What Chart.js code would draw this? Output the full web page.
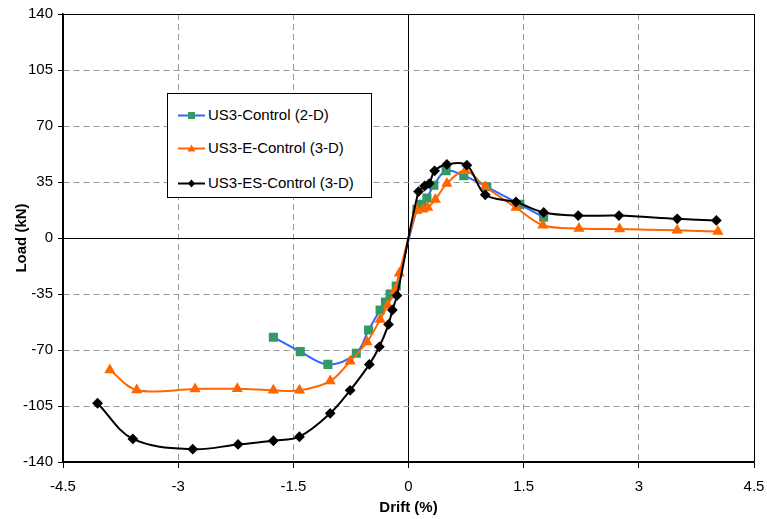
<!DOCTYPE html>
<html>
<head>
<meta charset="utf-8">
<script src="https://cdn.jsdelivr.net/npm/chart.js@4.4.0/dist/chart.umd.min.js"></script>
<style>
  body { margin: 0; background: #fff; }
  #wrap { position: relative; width: 767px; height: 519px; }
  #legend {
    position: absolute; left: 167px; top: 93px; width: 203px; height: 103px;
    border: 1px solid #000; background: #fff;
    font-family: "Liberation Sans", Arial, sans-serif; font-size: 15px; color: #000;
  }
  #legend .item { position: absolute; left: 10px; height: 18px; line-height: 18px; white-space: nowrap; }
  #legend svg { vertical-align: middle; margin-right: 3px; position: relative; top: -1px; }
</style>
</head>
<body>
<div id="wrap">
  <canvas id="chart" width="767" height="519"></canvas>
  <div id="legend"></div>
</div>
<script>
// US3-Control (2-D)
var drift2D = [-1.76, -1.41, -1.05, -0.68, -0.52, -0.37, -0.30, -0.24, -0.16,
               0.11, 0.17, 0.24, 0.33, 0.49, 0.72, 1.02, 1.45, 1.76];
var load2D  = [-62, -71, -79, -72, -57.5, -45, -40, -35, -30,
               18, 21, 25, 33, 42, 39, 32, 21, 13];

// US3-E-Control (3-D)
var driftE = [-3.89, -3.54, -2.78, -2.23, -1.76, -1.42, -1.02, -0.76, -0.54, -0.37, -0.27, -0.18, -0.12,
              0.11, 0.19, 0.25, 0.35, 0.50, 0.74, 1.0, 1.40, 1.75, 2.22, 2.75, 3.5, 4.03];
var loadE  = [-82.5, -95, -94.4, -94.2, -95.2, -95.2, -89.4, -77, -65, -51, -42, -33, -22,
              17.5, 18, 19, 24, 34, 42, 32, 19, 8, 6, 5.6, 4.8, 4];

// US3-ES-Control (3-D)
var driftES = [-4.05, -3.59, -2.81, -2.22, -1.76, -1.42, -1.02, -0.76, -0.51, -0.38, -0.26, -0.21, -0.15,
               0.13, 0.21, 0.27, 0.34, 0.50, 0.76, 1.0, 1.40, 1.76, 2.21, 2.74, 3.50, 4.01];
var loadES  = [-103.3, -125.6, -132, -129, -126.7, -124.2, -109.6, -95.2, -79, -68, -54, -45, -36,
               29, 32.5, 34, 42, 46, 45.5, 27, 22.5, 16, 14, 14, 12, 11];

var xTicks = [-4.5, -3, -1.5, 0, 1.5, 3, 4.5];
var yTicks = [-140, -105, -70, -35, 0, 35, 70, 105, 140];

var seriesNames = ["US3-Control (2-D)", "US3-E-Control (3-D)", "US3-ES-Control (3-D)"];

function toPoints(xs, ys) {
    var pts = [];
    for (var i = 0; i < xs.length; i++) {
        pts.push({x: xs[i], y: ys[i]});
    }
    return pts;
}

var FONT = "'Liberation Sans', Arial, sans-serif";

// edge and zero lines solid black, others grey dashed
function isSolid(ctx) {
    var v = ctx.tick ? ctx.tick.value : null;
    return v === 0 || v === 140 || v === 4.5 || v === -140 || v === -4.5;
}
function gridColor(ctx) { return isSolid(ctx) ? '#000' : '#999'; }
function gridDash(ctx) { return isSolid(ctx) ? [] : [6, 4]; }

var chartEl = document.getElementById("chart");
var loadChart = new Chart(chartEl, {
    type: "scatter",
    data: {
        datasets: [
            {
                label: seriesNames[0],
                data: toPoints(drift2D, load2D),
                showLine: true,
                borderColor: '#3366ff',
                borderWidth: 2,
                backgroundColor: '#339966',
                pointBackgroundColor: '#339966',
                pointBorderColor: '#339966',
                pointStyle: 'rect',
                pointRadius: 5,
                tension: 0.35,
                order: 3
            },
            {
                label: seriesNames[1],
                data: toPoints(driftE, loadE),
                showLine: true,
                borderColor: '#ff6600',
                borderWidth: 2,
                backgroundColor: '#ff6600',
                pointBackgroundColor: '#ff6600',
                pointBorderColor: '#ff6600',
                pointStyle: 'triangle',
                pointRadius: 4.5,
                tension: 0.35,
                order: 2
            },
            {
                label: seriesNames[2],
                data: toPoints(driftES, loadES),
                showLine: true,
                borderColor: '#000',
                borderWidth: 2,
                backgroundColor: '#000',
                pointBackgroundColor: '#000',
                pointBorderColor: '#000',
                pointStyle: 'rectRot',
                pointRadius: 4,
                tension: 0.35,
                order: 1
            }
        ]
    },
    options: {
        responsive: false,
        animation: false,
        layout: { padding: { top: 14, right: 13, left: 0, bottom: 0 } },
        plugins: {
            legend: { display: false },
            tooltip: { enabled: false }
        },
        scales: {
            x: {
                type: 'linear',
                min: -4.5,
                max: 4.5,
                afterBuildTicks: function (scale) {
                    scale.ticks = xTicks.map(function (v) { return {value: v}; });
                },
                afterFit: function (scale) {
                    scale.height = 57;
                    scale.paddingLeft = 0;
                    scale.paddingRight = 0;
                },
                ticks: {
                    color: '#000',
                    font: { family: FONT, size: 15 },
                    padding: 10,
                    maxRotation: 0,
                    callback: function (v) { return String(v); }
                },
                grid: { color: gridColor, lineWidth: 1, tickLength: 6, tickColor: '#000' },
                border: { display: true, color: '#000', width: 1.5, dash: gridDash },
                title: {
                    display: true,
                    text: 'Drift (%)',
                    color: '#000',
                    font: { family: FONT, size: 15, weight: 'bold' },
                    padding: { top: 0, bottom: 2 }
                }
            },
            y: {
                type: 'linear',
                min: -140,
                max: 140,
                afterBuildTicks: function (scale) {
                    scale.ticks = yTicks.map(function (v) { return {value: v}; });
                },
                afterFit: function (scale) { scale.width = 63; },
                ticks: {
                    color: '#000',
                    font: { family: FONT, size: 15 },
                    padding: 5,
                    callback: function (v) { return String(v); }
                },
                grid: { color: gridColor, lineWidth: 1, tickLength: 5, tickColor: '#000' },
                border: { display: true, color: '#000', width: 1.5, dash: gridDash },
                title: {
                    display: true,
                    text: 'Load (kN)',
                    color: '#000',
                    font: { family: FONT, size: 15, weight: 'bold' },
                    padding: { top: 13, bottom: 0 }
                }
            }
        }
    }
});

// legend as html, inside plot area
var legendEl = document.getElementById("legend");
var legendMarks = [
    { line: '#3366ff', fill: '#339966', shape: 'rect' },
    { line: '#ff6600', fill: '#ff6600', shape: 'tri' },
    { line: '#000', fill: '#000', shape: 'dia' }
];
var legendTops = [12, 45, 80];
for (var i = 0; i < seriesNames.length; i++) {
    var m = legendMarks[i];
    var shape = '';
    if (m.shape === 'rect') shape = '<rect x="10" y="3" width="7" height="7" fill="' + m.fill + '"/>';
    if (m.shape === 'tri') shape = '<polygon points="13.5,2.5 17.5,9.5 9.5,9.5" fill="' + m.fill + '"/>';
    if (m.shape === 'dia') shape = '<polygon points="13.5,2.5 17,6.5 13.5,10.5 10,6.5" fill="' + m.fill + '"/>';
    var svg = '<svg width="27" height="13"><line x1="0" y1="6.5" x2="27" y2="6.5" stroke="' + m.line + '" stroke-width="2"/>' + shape + '</svg>';
    var item = document.createElement('div');
    item.className = 'item';
    item.style.top = legendTops[i] + 'px';
    item.innerHTML = svg + '<span>' + seriesNames[i] + '</span>';
    legendEl.appendChild(item);
}
</script>
</body>
</html>
